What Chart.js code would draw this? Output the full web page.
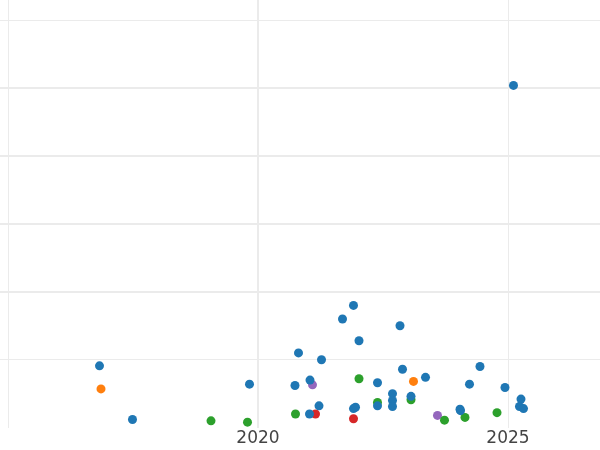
<!DOCTYPE html>
<html>
<head>
<meta charset="utf-8">
<script src="https://cdn.jsdelivr.net/npm/chart.js@4"></script>
<style>
  body { margin: 0; background: #fff; overflow: hidden; }
  /* the scatter controller keeps a point-radius margin round the plot; shift it out of view */
  #scatterChart { position: absolute; left: -5px; top: -5px; }
</style>
</head>
<body>
<canvas id="scatterChart" width="610" height="460"></canvas>
<script>
// tick positions
const xTicks = [2015, 2020, 2025];
const yTicks = [0, 1, 2, 3, 4, 5, 6];

// series values: [year, value]
const blueData = [
    [2016.83, 0.91], [2017.49, 0.12], [2019.83, 0.64], [2020.81, 1.10],
    [2020.74, 0.62], [2021.04, 0.70], [2021.27, 1.00], [2021.69, 1.60],
    [2021.91, 1.80], [2022.02, 1.28], [2022.84, 1.50], [2021.22, 0.32],
    [2021.03, 0.20], [2021.91, 0.28], [2021.95, 0.30], [2022.39, 0.66],
    [2022.39, 0.32], [2022.69, 0.50], [2022.69, 0.40], [2022.69, 0.31],
    [2022.89, 0.86], [2023.06, 0.46], [2023.35, 0.74], [2024.04, 0.27],
    [2024.05, 0.25], [2024.23, 0.64], [2024.44, 0.90], [2024.94, 0.59],
    [2025.26, 0.42], [2025.23, 0.31], [2025.31, 0.28], [2025.11, 5.04]
];
const orangeData = [[2016.86, 0.57], [2023.11, 0.68]];
const greenData = [
    [2019.06, 0.10], [2019.79, 0.08], [2020.75, 0.20], [2022.02, 0.72],
    [2022.39, 0.37], [2023.06, 0.41], [2023.73, 0.11], [2024.14, 0.15],
    [2024.78, 0.22]
];
const redData = [[2021.15, 0.20], [2021.91, 0.13]];
const purpleData = [[2021.09, 0.63], [2023.59, 0.18]];

function toPoints(arr) {
    return arr.map(p => ({ x: p[0], y: p[1] }));
}

function series(data, color) {
    return {
        data: toPoints(data),
        backgroundColor: color,
        borderWidth: 0,
        pointRadius: 4.5,
        pointHoverRadius: 4.5
    };
}

const ctx = document.getElementById('scatterChart').getContext('2d');

new Chart(ctx, {
    type: 'scatter',
    data: {
        datasets: [
            series(blueData, '#1f77b4'),
            series(orangeData, '#ff7f0e'),
            series(greenData, '#2ca02c'),
            series(redData, '#d62728'),
            series(purpleData, '#9467bd')
        ]
    },
    options: {
        responsive: false,
        animation: false,
        layout: { padding: 5 },
        plugins: {
            legend: { display: false },
            tooltip: { enabled: false }
        },
        scales: {
            x: {
                type: 'linear',
                min: 2014.84,
                max: 2026.84,
                afterBuildTicks: axis => { axis.ticks = xTicks.map(v => ({ value: v })); },
                border: { display: false },
                grid: {
                    drawTicks: false,
                    color: '#ebebeb',
                    lineWidth: c => (c.tick && c.tick.value === 2020) ? 2 : 1
                },
                ticks: {
                    autoSkip: false,
                    maxRotation: 0,
                    padding: 1,
                    color: '#444',
                    font: { family: 'DejaVu Sans', size: 17, lineHeight: 1.2 },
                    callback: v => (v === 2015 ? '' : String(v))
                }
            },
            y: {
                min: 0,
                max: 6.298,
                afterBuildTicks: axis => { axis.ticks = yTicks.map(v => ({ value: v })); },
                border: { display: false },
                grid: {
                    drawTicks: false,
                    color: c => (c.tick && c.tick.value === 0) ? 'rgba(0,0,0,0)' : '#ebebeb',
                    lineWidth: c => {
                        const v = c.tick ? c.tick.value : 0;
                        return (v >= 2 && v <= 5) ? 2 : 1;
                    }
                },
                ticks: { display: false }
            }
        }
    }
});
</script>
</body>
</html>
